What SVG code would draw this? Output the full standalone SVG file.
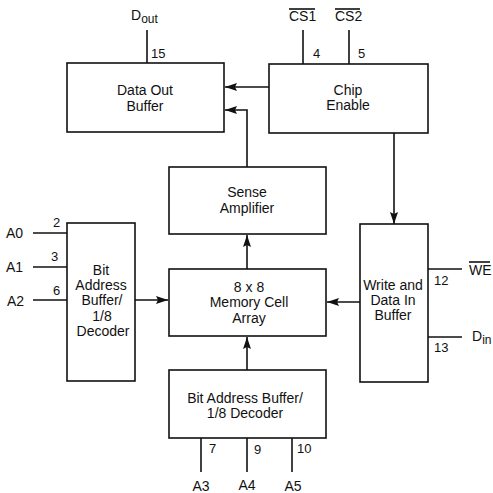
<svg xmlns="http://www.w3.org/2000/svg" width="493" height="493" viewBox="0 0 493 493">
<style>
.box{fill:#fff;stroke:#111;stroke-width:1.6}
.ln{fill:none;stroke:#111;stroke-width:1.6}
text{font-family:"Liberation Sans",Arial,sans-serif;font-size:14px;fill:#111}
.c{text-anchor:middle}
.pin{font-size:13px}
</style>
<defs>
<marker id="ah" viewBox="0 0 12 8" refX="12" refY="4" markerWidth="12" markerHeight="8" markerUnits="userSpaceOnUse" orient="auto">
<path d="M0,0 L12,4 L0,8 L2,4 Z" fill="#111"/>
</marker>
</defs>
<rect width="493" height="493" fill="#fff"/>
<g id="connectors">
<line class="ln" x1="147" y1="30" x2="147" y2="63"/>
<line class="ln" x1="303" y1="30" x2="303" y2="64"/>
<line class="ln" x1="349" y1="30" x2="349" y2="64"/>
<line class="ln" x1="269" y1="87" x2="225" y2="87" marker-end="url(#ah)"/>
<polyline class="ln" points="247,167 247,110 225,110" marker-end="url(#ah)"/>
<line class="ln" x1="394" y1="133" x2="394" y2="224" marker-end="url(#ah)"/>
<line class="ln" x1="247" y1="269" x2="247" y2="235" marker-end="url(#ah)"/>
<line class="ln" x1="247" y1="370" x2="247" y2="337" marker-end="url(#ah)"/>
<line class="ln" x1="135" y1="300" x2="168" y2="300" marker-end="url(#ah)"/>
<line class="ln" x1="360" y1="302" x2="327" y2="302" marker-end="url(#ah)"/>
<line class="ln" x1="33" y1="233" x2="67" y2="233"/>
<line class="ln" x1="33" y1="267" x2="67" y2="267"/>
<line class="ln" x1="33" y1="300" x2="67" y2="300"/>
<line class="ln" x1="428" y1="269" x2="462" y2="269"/>
<line class="ln" x1="428" y1="337" x2="462" y2="337"/>
<line class="ln" x1="201" y1="438" x2="201" y2="472"/>
<line class="ln" x1="247" y1="438" x2="247" y2="472"/>
<line class="ln" x1="292" y1="438" x2="292" y2="472"/>
</g>
<g id="data-out-buffer">
<rect class="box" x="67" y="63" width="157" height="69"/>
<text class="c" x="145" y="95">Data Out</text>
<text class="c" x="145" y="111">Buffer</text>
</g>
<g id="chip-enable">
<rect class="box" x="269" y="64" width="159" height="69"/>
<text class="c" x="348" y="95">Chip</text>
<text class="c" x="348" y="110">Enable</text>
</g>
<g id="sense-amplifier">
<rect class="box" x="169" y="167" width="157" height="67"/>
<text class="c" x="247" y="197">Sense</text>
<text class="c" x="247" y="213">Amplifier</text>
</g>
<g id="row-decoder">
<rect class="box" x="67" y="223" width="68" height="158"/>
<text class="c" x="101" y="275">Bit</text>
<text class="c" x="101" y="290">Address</text>
<text class="c" x="102" y="305">Buffer/</text>
<text class="c" x="102" y="321">1/8</text>
<text class="c" x="103" y="336">Decoder</text>
</g>
<g id="memory-array">
<rect class="box" x="169" y="269" width="157" height="67"/>
<text class="c" x="249" y="292">8 x 8</text>
<text class="c" x="249" y="307">Memory Cell</text>
<text class="c" x="249" y="323">Array</text>
</g>
<g id="write-buffer">
<rect class="box" x="360" y="224" width="68" height="158"/>
<text class="c" x="393" y="290">Write and</text>
<text class="c" x="393" y="305">Data In</text>
<text class="c" x="393" y="320">Buffer</text>
</g>
<g id="column-decoder">
<rect class="box" x="169" y="370" width="157" height="68"/>
<text class="c" x="245" y="403">Bit Address Buffer/</text>
<text class="c" x="245" y="418">1/8 Decoder</text>
</g>
<g id="pins">
<text x="131" y="20">D<tspan font-size="12" dy="3">out</tspan></text>
<text class="pin" x="151" y="58">15</text>
<text x="289" y="21">CS1</text>
<line class="ln" x1="289" y1="9" x2="315" y2="9" stroke-width="1.2"/>
<text x="335" y="21">CS2</text>
<line class="ln" x1="335" y1="9" x2="360" y2="9" stroke-width="1.2"/>
<text class="pin" x="313" y="58">4</text>
<text class="pin" x="358" y="58">5</text>
<text x="6" y="238">A0</text>
<text x="6" y="272">A1</text>
<text x="7" y="306">A2</text>
<text class="pin" x="53" y="227">2</text>
<text class="pin" x="51" y="261">3</text>
<text class="pin" x="53" y="295">6</text>
<text x="469" y="275">WE</text>
<line class="ln" x1="469" y1="262" x2="490" y2="262" stroke-width="1.2"/>
<text x="472" y="341">D<tspan font-size="12" dy="3">in</tspan></text>
<text class="pin" x="434" y="285">12</text>
<text class="pin" x="434" y="352">13</text>
<text class="pin" x="209" y="453">7</text>
<text class="pin" x="254" y="454">9</text>
<text class="pin" x="297" y="453">10</text>
<text class="c" x="201" y="491">A3</text>
<text class="c" x="247" y="490">A4</text>
<text class="c" x="293" y="491">A5</text>
</g>
</svg>
